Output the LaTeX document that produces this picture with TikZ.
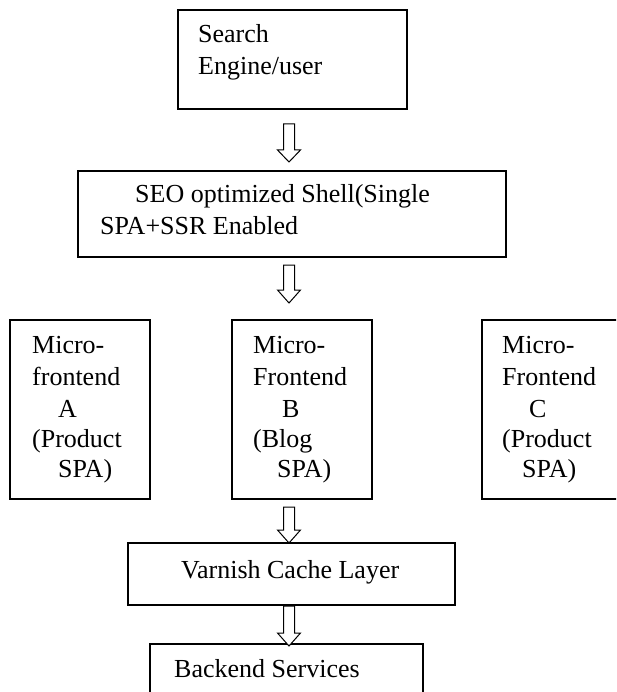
\documentclass[tikz,border=0pt]{standalone}
\usepackage{fontspec}
\setmainfont{Liberation Serif}
\begin{document}
\begin{tikzpicture}[x=1pt,y=-1pt,
  boxline/.style={draw=black,line width=1.4pt},
  txt/.style={anchor=base west,inner sep=0pt,font=\fontsize{26}{31}\selectfont},
  arrowline/.style={draw=black,line width=1pt,fill=white,line join=miter}]
\useasboundingbox (0,0) rectangle (616,692);
\clip (0,0) rectangle (616,692);
\newcommand{\hollowarrow}[3]{%
  \draw[arrowline] (#1) ++(-5.5,0) -- ++(0,#2) -- ++(-6,0) -- ++(11.5,#3) -- ++(11.5,-#3) -- ++(-6,0) -- ++(0,-#2) -- cycle;}
% boxes
\draw[boxline] (178,10) rectangle (407,109) node[pos=0.5] (user) {};
\draw[boxline] (78,171) rectangle (506,257) node[pos=0.5] (shell) {};
\draw[boxline] (10,320) rectangle (150,499) node[pos=0.5] (mfa) {};
\draw[boxline] (232,320) rectangle (372,499) node[pos=0.5] (mfb) {};
\draw[boxline] (482,320) rectangle (630,499) node[pos=0.5] (mfc) {};
\draw[boxline] (128,543) rectangle (455,605) node[pos=0.5] (cache) {};
\draw[boxline] (150,644) rectangle (423,710) node[pos=0.5] (backend) {};
% texts
\node[txt] (t1a) at (198,43) {Search};
\node[txt] (t1b) at (198,75) {Engine/user};
\node[txt] (t2a) at (135,203) {SEO optimized Shell(Single};
\node[txt] (t2b) at (100,235) {SPA+SSR Enabled};
\node[txt] (ta1) at (32,353) {Micro-};
\node[txt] (ta2) at (32,385) {frontend};
\node[txt] (ta3) at (58,417) {A};
\node[txt] (ta4) at (32,447) {(Product};
\node[txt] (ta5) at (58,477) {SPA)};
\node[txt] (tb1) at (253,353) {Micro-};
\node[txt] (tb2) at (253,385) {Frontend};
\node[txt] (tb3) at (282,417) {B};
\node[txt] (tb4) at (253,447) {(Blog};
\node[txt] (tb5) at (277,477) {SPA)};
\node[txt] (tc1) at (502,353) {Micro-};
\node[txt] (tc2) at (502,385) {Frontend};
\node[txt] (tc3) at (529,417) {C};
\node[txt] (tc4) at (502,447) {(Product};
\node[txt] (tc5) at (522,477) {SPA)};
\node[txt] (t5) at (181,578) {Varnish Cache Layer};
\node[txt] (t6) at (174,677) {Backend Services};
% arrows
\coordinate (a1) at (289,124);
\coordinate (a2) at (289,265);
\coordinate (a3) at (289,507);
\coordinate (a4) at (289,606);
\hollowarrow{a1}{26}{12}
\hollowarrow{a2}{25}{13}
\hollowarrow{a3}{23}{13}
\hollowarrow{a4}{27}{13}
\end{tikzpicture}
\end{document}
